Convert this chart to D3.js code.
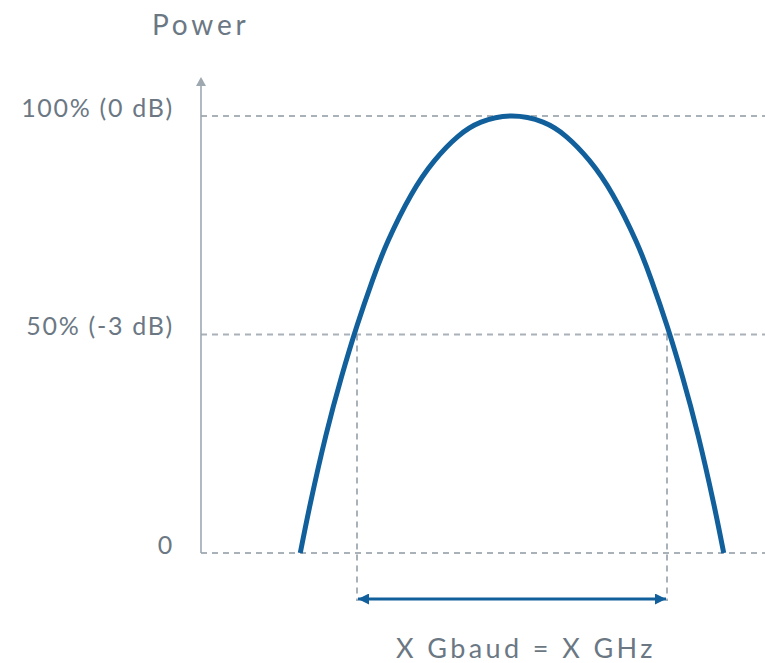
<!DOCTYPE html>
<html>
<head>
<meta charset="utf-8">
<script src="https://cdn.jsdelivr.net/npm/d3@7"></script>
<style>
  html, body { margin: 0; padding: 0; background: #ffffff; }
  svg { display: block; }
  text { font-family: Lato, "Open Sans", sans-serif; fill: #6b7884; }
</style>
</head>
<body>
<svg id="chart" width="765" height="663"></svg>
<script>
// ---- data ----
const yTicks = [0, 0.5, 1];
const yTickLabels = ["0", "50% (-3 dB)", "100% (0 dB)"];
const axisTitle = "Power";
const bandLabel = "X Gbaud = X GHz";
const bandEdges = [-0.5, 0.5]; // -3 dB points (normalised frequency)
const curveFreq  = [-0.683, -0.65, -0.6, -0.55, -0.5, -0.45, -0.4, -0.325, -0.25, -0.175, -0.1, 0, 0.1, 0.175, 0.25, 0.325, 0.4, 0.45, 0.5, 0.55, 0.6, 0.65, 0.683];
const curvePower = [0, 0.115, 0.27, 0.403, 0.52, 0.624, 0.714, 0.82, 0.898, 0.953, 0.986, 1.0, 0.986, 0.953, 0.898, 0.82, 0.714, 0.624, 0.52, 0.403, 0.27, 0.115, 0];

// ---- layout ----
const W = 765, H = 663;
const axisX = 201;
const svg = d3.select("#chart");

const x = d3.scaleLinear().domain([-0.5, 0.5]).range([357, 667]);
const y = d3.scaleLinear().domain([0, 1]).range([553, 116]);

const gridColor = "#a9b1b9";
const blue = "#11609c";
const textColor = "#6b7884";

// defs: arrowheads
const defs = svg.append("defs");
defs.append("marker")
  .attr("id", "bandArrow")
  .attr("viewBox", "0 0 11 11")
  .attr("refX", 11).attr("refY", 5.5)
  .attr("markerWidth", 11).attr("markerHeight", 11)
  .attr("markerUnits", "userSpaceOnUse")
  .attr("orient", "auto-start-reverse")
  .append("path").attr("d", "M0,0 L11,5.5 L0,11 Z").attr("fill", blue);

// gridlines (dashed)
svg.append("g")
  .selectAll("line")
  .data(yTicks)
  .join("line")
  .attr("x1", axisX).attr("x2", W)
  .attr("y1", d => y(d)).attr("y2", d => y(d))
  .attr("stroke", gridColor)
  .attr("stroke-width", 2)
  .attr("stroke-dasharray", "6,5");

// vertical dashed lines at -3 dB points
const arrowY = y(0) + 46;
svg.append("g")
  .selectAll("line")
  .data(bandEdges)
  .join("line")
  .attr("x1", d => x(d)).attr("x2", d => x(d))
  .attr("y1", y(0.5)).attr("y2", arrowY + 2)
  .attr("stroke", gridColor)
  .attr("stroke-width", 2)
  .attr("stroke-dasharray", "6,5");

// y axis with labels (library axis, no ticks)
const yAxis = d3.axisLeft(y)
  .tickValues(yTicks)
  .tickFormat((d, i) => yTickLabels[i])
  .tickSize(0)
  .tickPadding(27);
const gAxis = svg.append("g")
  .attr("transform", `translate(${axisX},0)`)
  .call(yAxis);
gAxis.select(".domain").remove();
gAxis.selectAll("text")
  .attr("dy", "0")
  .attr("font-size", 25)
  .attr("letter-spacing", "1.7px")
  .style("font-family", "Lato, 'Open Sans', sans-serif")
  .attr("fill", textColor);

// axis line with arrow head
svg.append("line")
  .attr("x1", axisX).attr("x2", axisX)
  .attr("y1", y(0)).attr("y2", 85)
  .attr("stroke", "#9ea8b1")
  .attr("stroke-width", 1.6);
svg.append("path")
  .attr("d", `M${axisX - 5},86 L${axisX},77 L${axisX + 5},86 Z`)
  .attr("fill", "#9ea8b1");

// axis title
svg.append("text")
  .attr("x", 152).attr("y", 35)
  .attr("text-anchor", "start")
  .attr("font-size", 28)
  .attr("letter-spacing", "3.8px")
  .text(axisTitle);

// the spectrum curve
const pts = curveFreq.map((f, i) => ({ f, p: curvePower[i] }));
const line = d3.line()
  .x(d => x(d.f))
  .y(d => y(d.p))
  .curve(d3.curveNatural);
svg.append("path")
  .datum(pts)
  .attr("d", line)
  .attr("fill", "none")
  .attr("stroke", blue)
  .attr("stroke-width", 5);

// band arrow
svg.append("line")
  .attr("x1", x(bandEdges[0]) + 1).attr("x2", x(bandEdges[1]) - 1)
  .attr("y1", arrowY).attr("y2", arrowY)
  .attr("stroke", blue)
  .attr("stroke-width", 3)
  .attr("marker-start", "url(#bandArrow)")
  .attr("marker-end", "url(#bandArrow)");

// band label
svg.append("text")
  .attr("x", 396).attr("y", 658)
  .attr("text-anchor", "start")
  .attr("font-size", 27)
  .attr("letter-spacing", "3.4px")
  .text(bandLabel);
</script>
</body>
</html>
